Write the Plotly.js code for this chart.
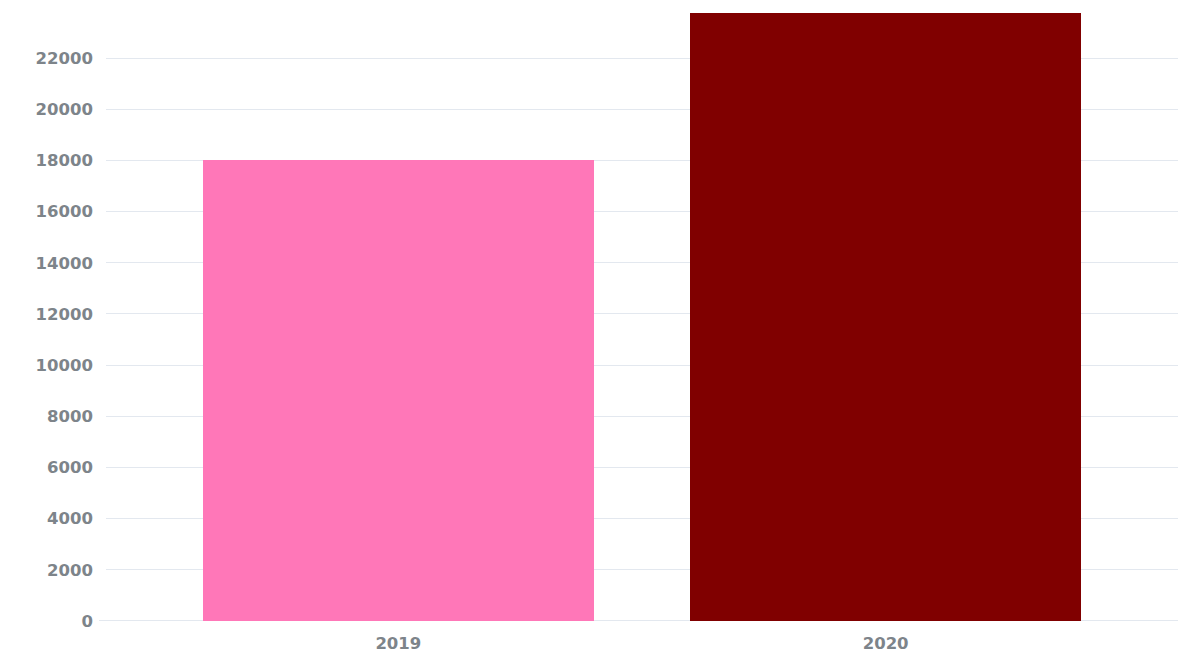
<!DOCTYPE html>
<html>
<head>
<meta charset="utf-8">
<script src="https://cdn.plot.ly/plotly-3.0.1.min.js"></script>
<style>html,body{margin:0;padding:0;background:#fff;}#chart{width:1192px;height:664px;}</style>
</head>
<body>
<div id="chart"></div>
<script>
const categories = ["2019", "2020"];
const values = [18000, 23760];
const barColors = ["#FF77B8", "#800000"];
const yTicks = [0, 2000, 4000, 6000, 8000, 10000, 12000, 14000, 16000, 18000, 20000, 22000];
const yTickLabels = ["0", "2000", "4000", "6000", "8000", "10000", "12000", "14000", "16000", "18000", "20000", "22000"];

const trace = {
  type: 'bar',
  x: [0, 1],
  y: values,
  width: 0.803,
  marker: {color: barColors, line: {width: 0}},
  hoverinfo: 'x+y'
};

const tickFont = {family: '"DejaVu Sans", sans-serif', size: 16.5, color: '#7d848a', weight: 700};

const layout = {
  width: 1192, height: 664,
  margin: {l: 106, r: 14, t: 10, b: 43},
  paper_bgcolor: '#fff', plot_bgcolor: '#fff',
  showlegend: false,
  bargap: 0,
  xaxis: {
    range: [-0.6, 1.6],
    tickmode: 'array', tickvals: [0, 1], ticktext: categories,
    showgrid: false, zeroline: false, showline: false,
    ticks: '', tickfont: tickFont, ticklabelstandoff: 10,
    fixedrange: true
  },
  yaxis: {
    range: [0, 23876],
    tickmode: 'array', tickvals: yTicks, ticktext: yTickLabels,
    showgrid: true, gridcolor: '#e3e8ef', gridwidth: 1,
    zeroline: false, showline: false,
    ticks: '', tickfont: tickFont, ticklabelstandoff: 12,
    fixedrange: true
  },
  shapes: [{
    type: 'line', xref: 'paper', yref: 'y',
    x0: -0.0065, x1: 1, y0: 0, y1: 0,
    line: {color: '#e3e8ef', width: 2},
    layer: 'below'
  }]
};

Plotly.newPlot('chart', [trace], layout, {displayModeBar: false, staticPlot: true});
</script>
</body>
</html>
